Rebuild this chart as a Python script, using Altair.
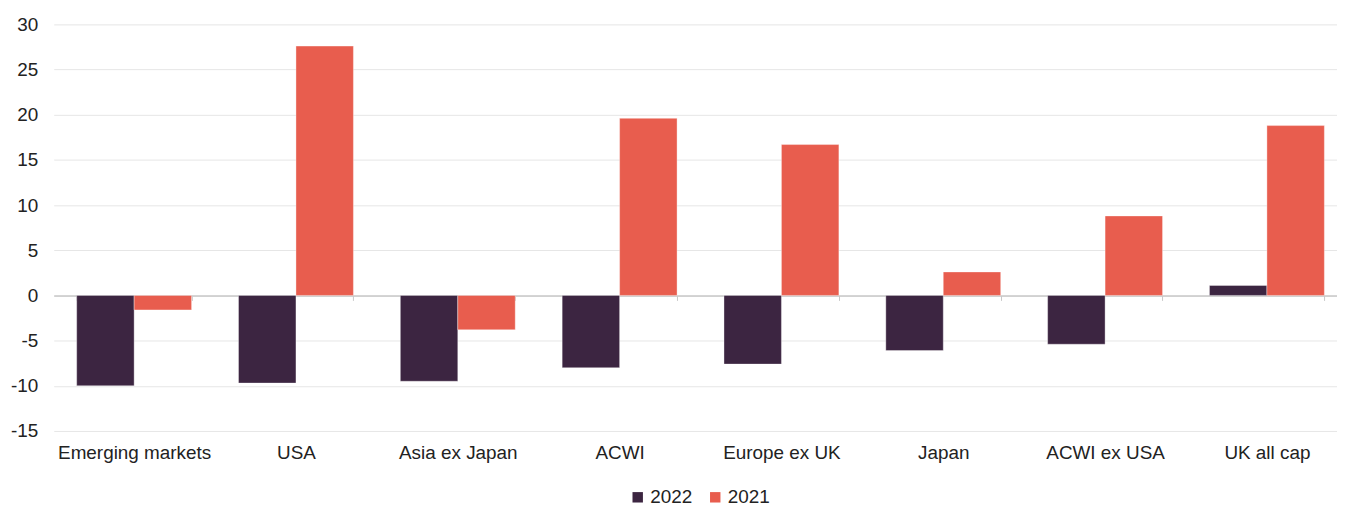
import altair as alt
import pandas as pd

categories = ["Emerging markets", "USA", "Asia ex Japan", "ACWI",
              "Europe ex UK", "Japan", "ACWI ex USA", "UK all cap"]
v2022 = [-10.0, -9.7, -9.5, -8.0, -7.6, -6.1, -5.4, 1.1]
v2021 = [-1.6, 27.6, -3.8, 19.6, 16.7, 2.6, 8.8, 18.8]
series = ["2022", "2021"]
colors = ["#3C2541", "#E85D4E"]

rows = []
for c, a, b in zip(categories, v2022, v2021):
    rows.append({"category": c, "series": "2022", "value": a})
    rows.append({"category": c, "series": "2021", "value": b})
df = pd.DataFrame(rows)

H = 409
W = 1291
FONT = "Liberation Sans"
FS = 19

chart = alt.Chart(df).mark_bar(stroke="#ffffff", strokeWidth=0.6, strokeOpacity=0.6).encode(
    x=alt.X("category:N", sort=categories, title=None,
            scale=alt.Scale(type="band", paddingInner=0.29, paddingOuter=0.11,
                            align=0.645, round=False),
            axis=alt.Axis(labelAngle=0, labelFont=FONT, labelFontSize=FS,
                          labelColor="#222222", tickBand="extent", tickSize=5,
                          tickColor="#c8c8c8", domainColor="#c8c8c8", domainWidth=1.5,
                          offset=-H / 3, labelPadding=144, grid=False)),
    xOffset=alt.XOffset("series:N", sort=series, scale=alt.Scale(paddingInner=0, paddingOuter=0)),
    y=alt.Y("value:Q", title=None,
            scale=alt.Scale(domain=[-15, 30], nice=False, zero=False),
            axis=alt.Axis(values=[-15, -10, -5, 0, 5, 10, 15, 20, 25, 30],
                          labelExpr="'' + datum.value",
                          labelFont=FONT, labelFontSize=FS,
                          labelColor="#222222", labelPadding=16, ticks=False,
                          domain=False, gridColor="#e6e6e6", gridWidth=1)),
    color=alt.Color("series:N", sort=series,
                    scale=alt.Scale(domain=series, range=colors),
                    legend=alt.Legend(title=None, orient="none", direction="horizontal",
                                      legendX=578, legendY=466, padding=0,
                                      symbolType="square", symbolSize=110,
                                      symbolStrokeWidth=0, labelFont=FONT,
                                      labelFontSize=FS, labelColor="#222222",
                                      columnPadding=13, labelOffset=3)),
).properties(
    width=W, height=H,
    autosize=alt.AutoSizeParams(type="none"),
    padding={"left": 46, "top": 15, "right": 0, "bottom": 74},
).configure_view(stroke=None)

chart.save("out.html", embed_options={"renderer": "svg", "actions": False})
